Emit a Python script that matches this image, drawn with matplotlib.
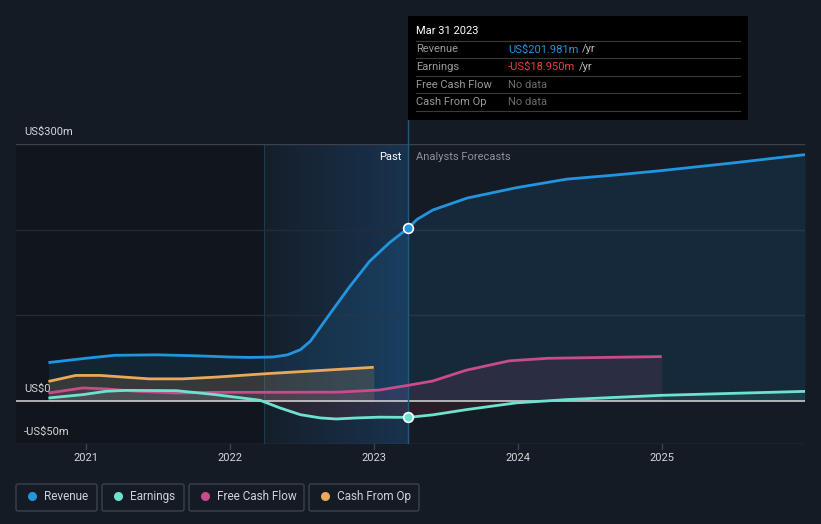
import numpy as np
import matplotlib
matplotlib.use("Agg")
import matplotlib.pyplot as plt
from matplotlib.patches import FancyBboxPatch, Rectangle

matplotlib.rcParams['font.family'] = ['Roboto', 'DejaVu Sans']

BG = "#151b24"
C_REV = "#2394df"
C_EARN = "#6de2cf"
C_FCF = "#c84b8c"
C_CFO = "#e8a95a"

# values (fractional years, US$m)
rev_dates = [2020.74, 2021.0, 2021.2, 2021.5, 2021.75, 2022.0, 2022.14, 2022.3, 2022.4,
             2022.49, 2022.56, 2022.7, 2022.83, 2022.97, 2023.11, 2023.24, 2023.3,
             2023.41, 2023.65, 2023.99, 2024.34, 2024.69, 2025.0, 2025.5, 2025.995]
revenue = [45, 50, 53.5, 54, 53, 51.5, 51, 51.5, 54,
           60, 70, 103, 133, 163, 185, 201.981, 212,
           223, 237, 249, 259, 264, 269, 278, 287.6]

earn_dates = [2020.74, 2020.98, 2021.14, 2021.28, 2021.63, 2021.9, 2022.07, 2022.21, 2022.35,
              2022.49, 2022.63, 2022.74, 2022.88, 2023.04, 2023.24, 2023.41, 2023.64,
              2023.99, 2024.34, 2025.0, 2025.995]
earnings = [3.7, 7.6, 11.5, 12.6, 12.2, 7.6, 4, 1, -8,
            -15.8, -19.6, -20.8, -19.6, -18.7, -18.95, -16, -10,
            -2, 1.8, 6.8, 11.4]

fcf_dates = [2020.74, 2020.98, 2021.14, 2021.35, 2021.63, 2021.9, 2022.25, 2022.75, 2023.04,
             2023.13, 2023.24, 2023.41, 2023.64, 2023.94, 2024.21, 2024.6, 2025.0]
fcf = [9.5, 15.4, 14.2, 11.5, 9.5, 10.3, 10.3, 10.5, 13,
       15.5, 18.5, 23.5, 36, 47, 50, 51, 52]

cfo_dates = [2020.74, 2020.93, 2021.1, 2021.44, 2021.67, 2021.9, 2022.25, 2022.5, 2022.75, 2023.0]
cfo = [23, 30, 30, 26, 26, 28, 32, 34.5, 37, 39.5]

years = [2021, 2022, 2023, 2024, 2025]
ytick_vals = [300, 0, -50]
ytick_labels = ["US$300m", "US$0", "-US$50m"]

past_x = 2023.24
band_x = 2022.24

W, H = 821, 524
fig = plt.figure(figsize=(W / 100, H / 100), dpi=100, facecolor=BG)

ax = fig.add_axes([16 / W, 80 / H, 789 / W, 300 / H])
ax.set_facecolor(BG)
for s in ax.spines.values():
    s.set_visible(False)
ax.set_xticks([])
ax.set_yticks([])

# shaded regions
ax.axvspan(2020.515, band_x, color="#11151c", zorder=0, lw=0)
grad = np.zeros((2, 100, 4))
grad[..., 0] = 0.13
grad[..., 1] = 0.42
grad[..., 2] = 0.70
grad[..., 3] = np.linspace(0.05, 0.30, 100)
ax.imshow(grad, extent=[band_x, past_x, -50, 300], aspect="auto", zorder=0.5,
          interpolation="bilinear")
ax.set_xlim(2020.515, 2025.995)
ax.set_ylim(-50, 300)
ax.axvline(band_x, color="#1d3a52", lw=0.8, zorder=0.6)

# grid
for v, c in [(100, "#252c37"), (200, "#252c37"), (300, "#3c424d"), (-50, "#3c424d")]:
    ax.axhline(v, color=c, lw=1, zorder=1)

# fills
ax.fill_between(rev_dates, revenue, 0, color=C_REV, alpha=0.12, lw=0, zorder=2)
ax.fill_between(cfo_dates, cfo, 0, color=C_CFO, alpha=0.16, lw=0, zorder=2)
ax.fill_between(fcf_dates, fcf, 0, color=C_FCF, alpha=0.12, lw=0, zorder=2)
e = np.array(earnings)
ax.fill_between(earn_dates, e, 0, where=e >= 0, interpolate=True,
                color=C_EARN, alpha=0.10, lw=0, zorder=2)
ax.fill_between(earn_dates, e, 0, where=e < 0, interpolate=True,
                color="#e0403c", alpha=0.10, lw=0, zorder=2)

ax.axhline(0, color="#d8d8d8", lw=1.1, zorder=3)
ax.axvline(past_x, color="#1f5a80", lw=1, zorder=3.5)

# lines
lw = 2.0
ax.plot(cfo_dates, cfo, color=C_CFO, lw=lw, zorder=4, solid_capstyle="butt")
ax.plot(fcf_dates, fcf, color=C_FCF, lw=lw, zorder=4, solid_capstyle="butt")
ax.plot(earn_dates, earnings, color=C_EARN, lw=lw, zorder=5, solid_capstyle="butt")
ax.plot(rev_dates, revenue, color=C_REV, lw=lw, zorder=6, solid_capstyle="butt")

i_rev = rev_dates.index(past_x)
i_earn = earn_dates.index(past_x)
ax.plot([past_x], [revenue[i_rev]], "o", color=C_REV, mec="white", mew=1.2, ms=7, zorder=7)
ax.plot([past_x], [earnings[i_earn]], "o", color=C_EARN, mec="white", mew=1.2, ms=7, zorder=7)

ax.text(past_x - 0.05, 285, "Past", color="white", fontsize=8, ha="right", va="center", zorder=8)
ax.text(past_x + 0.05, 285, "Analysts Forecasts", color="#8d9299", fontsize=8,
        ha="left", va="center", zorder=8)

# overlay in pixel coordinates
ov = fig.add_axes([0, 0, 1, 1], zorder=10)
ov.set_xlim(0, W)
ov.set_ylim(H, 0)
ov.axis("off")
ov.patch.set_alpha(0)


def to_px(x, y):
    dx, dy = ax.transData.transform((x, y))
    return dx, H - dy


px_past, py_top = to_px(past_x, 300)
ov.plot([px_past, px_past], [120, py_top], color="#1f5a80", lw=1, zorder=1)

# y labels
for v, lab in zip(ytick_vals, ytick_labels):
    _, py = to_px(2021, v)
    ov.text(24, py - 12, lab, color="#d4d6d9", fontsize=8, ha="left", va="center")

# x ticks
for yr in years:
    px, _ = to_px(yr, 0)
    ov.plot([px, px], [444, 449], color="#3c424d", lw=1)
    ov.text(px, 458, str(yr), color="#d4d6d9", fontsize=8, ha="center", va="center")

# tooltip
ov.add_patch(Rectangle((408, 16), 340, 104, facecolor="black", edgecolor="none", zorder=2))
ov.text(416, 31, "Mar 31 2023", color="white", fontsize=8, ha="left", va="center", zorder=3)
for yl in [41, 58, 76, 93, 111]:
    ov.plot([416, 740], [yl, yl], color="#3a3a3a", lw=0.8, zorder=3)
rows = [("Revenue", "US$201.981m", C_REV, True),
        ("Earnings", "-US$18.950m", "#e8413e", True),
        ("Free Cash Flow", "No data", "#6a6a6a", False),
        ("Cash From Op", "No data", "#6a6a6a", False)]
fig.canvas.draw()
r = fig.canvas.get_renderer()
for i, (name, val, col, unit) in enumerate(rows):
    yy = 49.5 + i * 17.5
    ov.text(416, yy, name, color="#9a9a9a", fontsize=8, ha="left", va="center", zorder=3)
    t = ov.text(508, yy, val, color=col, fontsize=8, ha="left", va="center", zorder=3)
    if unit:
        bb = t.get_window_extent(renderer=r)
        ov.text(bb.x1 + 4, yy, "/yr", color="#bdbdbd", fontsize=8, ha="left", va="center",
                zorder=3)

# legend
leg = [("Revenue", C_REV, 16, 97), ("Earnings", C_EARN, 102, 184),
       ("Free Cash Flow", C_FCF, 189, 304), ("Cash From Op", C_CFO, 309, 419)]
for name, col, x0, x1 in leg:
    ov.add_patch(FancyBboxPatch((x0, 484), x1 - x0, 27, boxstyle="round,pad=0,rounding_size=2",
                                facecolor="none", edgecolor="#3c424d", lw=1))
    ov.plot([x0 + 16], [496], "o", color=col, ms=6.5, mec="none")
    ov.text(x0 + 28, 496.5, name, color="#cfd2d6", fontsize=8.5, ha="left", va="center")

fig.savefig("out.png", dpi=100, facecolor=BG)
